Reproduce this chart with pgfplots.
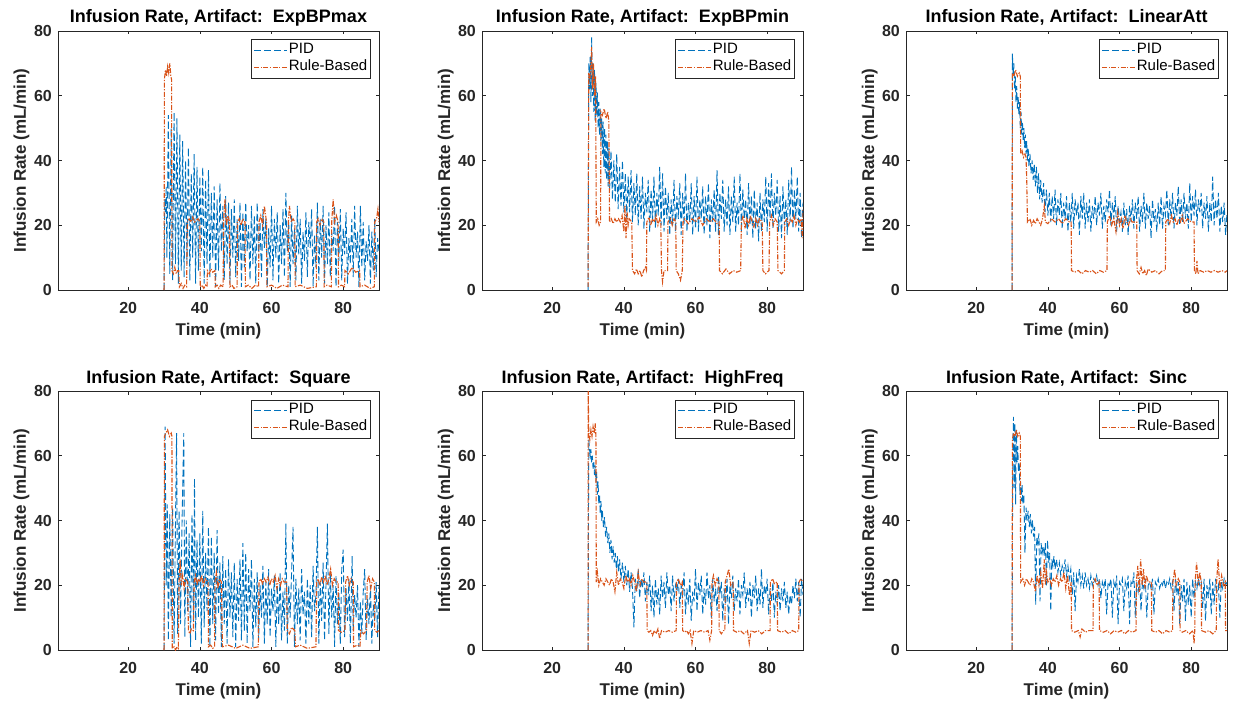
\documentclass[border=0pt]{standalone}
\usepackage{fontspec}
\setmainfont{Liberation Sans}
\usepackage{pgfplots}
\pgfplotsset{compat=1.18}

\definecolor{mblue}{rgb}{0,0.447,0.741}
\definecolor{morange}{rgb}{0.85,0.325,0.098}
\definecolor{axgray}{rgb}{0.15,0.15,0.15}

\pgfplotsset{
  panel/.style={
    scale only axis, width=321pt, height=259pt, anchor=south west,
    xmin=0.4, xmax=90, ymin=0, ymax=80,
    xtick={20,40,60,80}, ytick={0,20,40,60,80},
    tick align=inside, major tick length=3.5pt,
    axis line style={axgray, line width=0.6pt},
    tick style={axgray, line width=0.6pt},
    /pgf/number format/assume math mode=true,
    ticklabel style={font=\fontsize{16}{19}\selectfont\bfseries, text=axgray, inner sep=0pt},
    xticklabel style={anchor=base, yshift=-23pt},
    yticklabel style={anchor=east, xshift=-6pt},
    every axis x label/.style={at={(axis description cs:0.5,0)}, anchor=base, yshift=-45pt,
      font=\fontsize{17}{20}\selectfont\bfseries, text=axgray},
    every axis y label/.style={at={([xshift=-32pt]axis description cs:0,0.5)}, rotate=90, anchor=base,
      font=\fontsize{17}{20}\selectfont\bfseries, text=axgray},
    every axis title/.style={at={(axis description cs:0.5,1)}, anchor=base, yshift=8pt,
      font=\fontsize{18}{21}\selectfont\bfseries},
    xlabel={Time (min)}, ylabel={Infusion Rate (mL/min)},
    legend cell align=left,
    legend image code/.code={\draw[##1] (0pt,0pt) -- (33pt,0pt);},
    legend style={at={(1,1)}, anchor=north east, xshift=-8.5pt, yshift=-8.5pt,
      draw=axgray, line width=0.6pt, fill=white, inner xsep=2pt, inner ysep=2pt,
      font=\fontsize{15}{18}\selectfont,
      nodes={inner sep=1pt, text height=11pt, text depth=4pt}, column sep=0pt},
  },
  pid/.style={draw=mblue, line width=0.9pt, dash pattern=on 7pt off 3pt},
  rule/.style={draw=morange, line width=1.1pt, dash pattern=on 5pt off 1.5pt on 1.2pt off 1.5pt},
}

\begin{document}
\begin{tikzpicture}
\useasboundingbox (0,0) rectangle (1233pt,705pt);

% ---------------- ExpBPmax ----------------
\begin{axis}[panel, at={(58pt,415pt)}, title={Infusion Rate, Artifact:~~ExpBPmax}]
\addplot[pid] coordinates {(30.0,0)(30.2,28)(30.4,24)(30.6,32)(30.8,10)(31.2,54)(31.6,5)(32.0,50)(32.4,3)(32.8,55)(33.2,8)(33.6,53)(34.0,2)(34.4,48)(34.8,6)(35.2,46)(35.6,4)(36.0,40)(36.4,8)(36.8,44)(37.2,3)(37.6,36)(38.0,10)(38.4,42)(38.8,2)(39.2,38)(39.6,6)(40.0,35)(40.4,12)(40.8,38)(41.2,2)(41.6,34)(42.0,8)(42.4,37)(42.8,4)(43.2,30)(43.6,10)(44.0,32)(44.4,1)(44.8,28)(45.2,6)(45.6,33)(46.0,12)(46.4,26)(46.8,3)(47.2,29)(47.6,8)(48.0,27)(48.4,2)(48.8,25)(49.2,10)(49.6,28)(50.0,4)(50.4,22)(50.8,9)(51.2,27)(51.6,1)(52.0,24)(52.4,7)(52.8,27)(53.2,12)(53.6,20)(54.0,3)(54.4,26)(54.8,8)(55.2,23)(55.6,2)(56.0,27)(56.4,10)(56.8,21)(57.2,4)(57.6,25)(58.0,13)(58.4,22)(58.8,1)(59.2,19)(59.6,7)(60.0,26)(60.4,3)(60.8,22)(61.2,10)(61.6,24)(62.0,2)(62.4,20)(62.8,8)(63.2,25)(63.6,4)(64.0,30)(64.4,12)(64.8,21)(65.2,1)(65.6,23)(66.0,8)(66.4,19)(66.8,3)(67.2,26)(67.6,11)(68.0,22)(68.4,2)(68.8,18)(69.2,9)(69.6,24)(70.0,4)(70.4,21)(70.8,13)(71.2,25)(71.6,1)(72.0,17)(72.4,7)(72.8,27)(73.2,3)(73.6,22)(74.0,10)(74.4,26)(74.8,2)(75.2,20)(75.6,8)(76.0,24)(76.4,4)(76.8,18)(77.2,12)(77.6,26)(78.0,1)(78.4,21)(78.8,9)(79.2,25)(79.6,3)(80.0,19)(80.4,11)(80.8,24)(81.2,2)(81.6,16)(82.0,8)(82.4,22)(82.8,4)(83.2,26)(83.6,10)(84.0,18)(84.4,1)(84.8,26)(85.2,7)(85.6,21)(86.0,3)(86.4,15)(86.8,9)(87.2,20)(87.6,2)(88.0,18)(88.4,6)(88.8,22)(89.2,4)(89.6,16)(90.0,12)};
\addplot[rule] coordinates {(30,0)(30.1,65)(30.4,68)(30.7,66)(31.0,69)(31.3,67)(31.6,70)(31.9,66)(32.1,65)(32.2,6)(32.6,5)(33.0,7)(33.4,5)(33.8,6)(34.1,6)(34.3,1)(34.8,2)(35.3,0.5)(35.8,1.5)(36.3,1)(36.5,21)(37,22)(37.5,21)(38,22.5)(38.5,21)(39,21.5)(39.5,22)(40,21)(40.1,1)(40.6,1.5)(41.1,0.5)(41.6,1.5)(42,1)(42.1,6)(42.6,5)(43.1,6.5)(43.6,5.5)(44.2,6)(44.3,1)(44.8,1.5)(45.3,0.5)(45.8,1.5)(46.5,1)(46.6,21)(47,28)(47.4,20)(47.8,23)(48.3,21)(48.4,1)(49,1.5)(49.5,0.5)(50.4,1)(50.5,21)(51,22)(51.5,20)(52,22)(52.6,21)(52.7,1)(53.5,1.5)(54.5,0.5)(55.5,1.5)(56.4,1)(56.5,21)(57,23)(57.5,20)(58,26)(58.6,21)(58.7,1)(60,1.5)(61.5,0.5)(63,1.5)(64.6,1)(64.7,21)(65,26)(65.5,21)(66,22)(66.5,21)(66.6,1)(68,1.5)(70,0.5)(72.5,1)(72.6,21)(73,22)(73.5,20)(74,22)(74.6,21)(74.7,1)(75.5,1.5)(76.7,1)(76.8,21)(77.2,28)(77.6,21)(78.1,23)(78.6,21)(78.7,1)(79.5,1.5)(80.4,1)(80.5,6)(81.5,5)(82.5,7)(83.5,5.5)(84.6,6)(84.7,1)(86,1.5)(87.5,0.5)(88.7,1)(88.8,21)(89.3,22)(89.7,25)(90,21)};
\legend{PID,Rule-Based}
\end{axis}

% ---------------- ExpBPmin ----------------
\begin{axis}[panel, at={(482pt,415pt)}, title={Infusion Rate, Artifact:~~ExpBPmin}]
\addplot[pid] coordinates {(30.0,0)(30.2,70)(30.4,62)(30.6,72)(30.8,58)(31.0,78)(31.2,60)(31.4,70)(31.6,55)(31.8,68)(32.0,52)(32.2,64)(32.4,54)(32.6,61)(32.8,50)(33.0,58)(33.2,48)(33.4,56)(33.6,46)(33.8,53)(34.0,42)(34.2,52)(34.4,38)(34.6,50)(34.8,36)(35.0,48)(35.2,34)(35.4,46)(35.6,32)(35.8,44)(36.0,30)(36.4,43)(36.8,28)(37.2,40)(37.6,27)(38.0,42)(38.4,25)(38.8,38)(39.2,26)(39.6,40)(40.0,24)(40.4,36)(40.8,22)(41.2,35)(41.6,24)(42.0,37)(42.4,21)(42.8,33)(43.2,23)(43.6,36)(44.0,20)(44.4,32)(44.8,22)(45.2,35)(45.6,19)(46.0,30)(46.4,24)(46.8,34)(47.2,18)(47.6,31)(48.0,21)(48.4,35)(48.8,19)(49.2,30)(49.6,23)(50.0,38)(50.4,20)(50.8,36)(51.2,18)(51.6,32)(52.0,22)(52.4,30)(52.8,17)(53.2,28)(53.6,20)(54.0,34)(54.4,18)(54.8,29)(55.2,22)(55.6,33)(56.0,17)(56.4,30)(56.8,20)(57.2,36)(57.6,18)(58.0,27)(58.4,21)(58.8,33)(59.2,17)(59.6,29)(60.0,19)(60.4,35)(60.8,18)(61.2,28)(61.6,22)(62.0,32)(62.4,17)(62.8,29)(63.2,20)(63.6,33)(64.0,16)(64.4,28)(64.8,21)(65.2,31)(65.6,18)(66.0,37)(66.4,17)(66.8,30)(67.2,22)(67.6,34)(68.0,18)(68.4,28)(68.8,20)(69.2,32)(69.6,17)(70.0,29)(70.4,21)(70.8,35)(71.2,18)(71.6,27)(72.0,20)(72.4,36)(72.8,18)(73.2,31)(73.6,22)(74.0,28)(74.4,17)(74.8,33)(75.2,20)(75.6,29)(76.0,16)(76.4,31)(76.8,19)(77.2,27)(77.6,15)(78.0,30)(78.4,18)(78.8,28)(79.2,21)(79.6,35)(80.0,18)(80.4,33)(80.8,22)(81.2,36)(81.6,19)(82.0,30)(82.4,23)(82.8,34)(83.2,18)(83.6,29)(84.0,16)(84.4,32)(84.8,20)(85.2,28)(85.6,17)(86.0,34)(86.4,21)(86.8,38)(87.2,19)(87.6,31)(88.0,22)(88.4,35)(88.8,18)(89.2,30)(89.6,16)(90.0,27)};
\addplot[rule] coordinates {(30,1)(30.2,67)(30.5,65)(30.8,70)(31.0,75)(31.2,62)(31.5,70)(31.8,60)(32.1,66)(32.3,21)(32.7,22)(33.1,20)(33.5,21)(33.6,55)(34,54)(34.5,56)(35,53)(35.5,55)(35.8,52)(36,21)(36.5,22)(37,20.5)(37.5,22)(38,21)(38.5,22)(39,21)(39.5,23)(40,18)(40.3,26)(40.6,16)(40.9,24)(41.2,20)(41.5,22)(42.2,21)(42.4,6)(43,5)(43.5,6.5)(44,5)(44.5,6)(45,4)(45.5,6)(46,7)(46.3,6)(46.4,21)(47,22.5)(47.5,20)(48,22)(48.5,21)(49,23)(49.5,20)(50,22)(50.3,21)(50.5,6)(50.8,2.5)(51.2,6)(51.8,6)(52.2,6)(52.3,21)(53,22)(53.5,20)(54,22)(54.5,21)(54.6,6)(55.2,5)(55.8,3)(56.3,6)(56.5,21)(57,22)(58,20.5)(59,22)(60,21)(61,22.5)(62,20)(63,22)(64,21)(65,22)(66,20.5)(66.6,21)(66.7,6)(67.5,5)(68.5,6.5)(69.5,5)(70.5,6)(71.5,5.5)(72.6,6)(72.8,21)(73.3,23)(73.8,19)(74.3,22)(74.8,20)(75.3,23)(75.8,21)(76.3,19.5)(76.8,22)(77.3,20)(77.8,22)(78.6,21)(78.8,6)(79.5,5)(80.5,6)(80.7,21)(81.2,23)(81.7,20)(82.2,22)(82.8,21)(83,6)(84,5)(84.8,6)(84.9,21)(85.5,22)(86,20)(86.5,22)(87,21)(87.5,23)(88,20)(88.5,22)(89,21)(89.5,22)(89.8,16)(90,25)};
\legend{PID,Rule-Based}
\end{axis}

% ---------------- LinearAtt ----------------
\begin{axis}[panel, at={(906pt,415pt)}, title={Infusion Rate, Artifact:~~LinearAtt}]
\addplot[pid] coordinates {(30.0,0)(30.1,73)(30.3,66)(30.5,70)(30.7,62)(30.9,66)(31.1,58)(31.3,63)(31.5,56)(31.7,60)(31.9,54)(32.1,58)(32.3,50)(32.5,55)(32.7,48)(32.9,52)(33.1,46)(33.3,50)(33.5,44)(33.7,48)(33.9,42)(34.1,46)(34.3,40)(34.5,44)(34.7,38)(35.0,42)(35.3,36)(35.6,40)(35.9,34)(36.2,39)(36.5,32)(36.8,38)(37.1,30)(37.4,36)(37.7,28)(38.0,34)(38.4,27)(38.8,33)(39.2,24)(39.6,31)(40.0,23)(40.4,30)(40.8,21)(41.2,29)(41.6,22)(42.0,31)(42.4,20)(42.8,28)(43.2,23)(43.6,30)(44.0,19)(44.4,27)(44.8,22)(45.2,29)(45.6,18)(46.0,27)(46.4,21)(46.8,30)(47.2,19)(47.6,28)(48.0,23)(48.4,27)(48.8,17)(49.2,29)(49.6,22)(50.0,30)(50.4,19)(50.8,27)(51.2,21)(51.6,28)(52.0,18)(52.4,26)(52.8,22)(53.2,29)(53.6,20)(54.0,27)(54.4,23)(54.8,30)(55.2,19)(55.6,26)(56.0,21)(56.4,28)(56.8,24)(57.2,31)(57.6,20)(58.0,27)(58.4,22)(58.8,29)(59.2,18)(59.6,26)(60.0,21)(60.4,24)(60.8,18)(61.2,27)(61.6,20)(62.0,25)(62.4,17)(62.8,26)(63.2,21)(63.6,28)(64.0,19)(64.4,27)(64.8,22)(65.2,29)(65.6,18)(66.0,26)(66.4,21)(66.8,30)(67.2,19)(67.6,27)(68.0,22)(68.4,26)(68.8,16)(69.2,28)(69.6,21)(70.0,25)(70.4,18)(70.8,27)(71.2,20)(71.6,29)(72.0,19)(72.4,26)(72.8,23)(73.2,31)(73.6,20)(74.0,28)(74.4,22)(74.8,30)(75.2,19)(75.6,27)(76.0,23)(76.4,32)(76.8,20)(77.2,28)(77.6,21)(78.0,30)(78.4,22)(78.8,27)(79.2,19)(79.6,33)(80.0,21)(80.4,29)(80.8,23)(81.2,31)(81.6,20)(82.0,28)(82.4,24)(82.8,30)(83.2,19)(83.6,27)(84.0,22)(84.4,29)(84.8,18)(85.2,27)(85.6,21)(86.0,35)(86.4,20)(86.8,28)(87.2,22)(87.6,30)(88.0,18)(88.4,26)(88.8,21)(89.2,27)(89.6,17)(90.0,24)};
\addplot[rule] coordinates {(30,0)(30.1,67)(30.5,66)(31,68)(31.5,66)(32,67)(32.3,66)(32.4,42)(32.8,43)(33.2,41)(33.6,42)(33.9,41)(34.1,34)(34.3,21)(35,22)(35.5,20)(36,21.5)(36.5,20.5)(37,22)(37.5,21)(38,20)(38.5,22)(39,26)(39.3,21)(40,20.5)(41,22)(42,21)(43,22)(44,20.5)(45,22)(46,21)(46.5,21)(46.6,6)(47.5,5.5)(48.5,6)(49.5,5)(50.5,6)(51.5,5.5)(52.5,6)(53.5,5)(54.5,6)(55.5,5.5)(56.5,6)(56.6,21)(57.2,23)(57.8,20)(58.4,22)(59,18)(59.5,24)(60,20)(60.5,22)(61,19)(61.5,23)(62,21)(62.5,20)(63,22)(63.5,21)(64.8,21)(64.9,6)(65.5,5)(66,7)(66.5,5)(67,6)(67.5,4.5)(68,6.5)(69,5.5)(70,6)(71,5)(72,6)(72.8,6)(72.9,21)(73.5,22)(74,20.5)(74.5,23)(75,21)(75.5,22)(76,20)(76.5,22)(77,21)(77.5,23)(78,20.5)(79,22)(80,21)(80.8,21)(80.9,6)(81.3,5)(81.6,9)(81.9,5)(82.5,6)(83.5,5.5)(84.5,6)(85.5,5.5)(86.5,6)(87.5,5.5)(88.5,6)(89.5,5.5)(90,6)};
\legend{PID,Rule-Based}
\end{axis}

% ---------------- Square ----------------
\begin{axis}[panel, at={(58pt,55pt)}, title={Infusion Rate, Artifact:~~Square}]
\addplot[pid] coordinates {(30.0,0)(30.3,69)(30.6,20)(30.9,45)(31.2,3)(31.6,42)(32.0,10)(32.4,44)(32.8,2)(33.2,40)(33.5,67)(33.8,5)(34.2,43)(34.6,8)(35.0,38)(35.5,67)(35.8,4)(36.2,40)(36.6,12)(37.0,36)(37.4,1)(37.8,42)(38.2,9)(38.5,53)(38.8,3)(39.2,34)(39.6,10)(40.0,36)(40.4,2)(40.8,43)(41.2,7)(41.6,30)(42.0,12)(42.4,38)(42.8,1)(43.2,35)(43.6,8)(44.0,30)(44.4,3)(44.8,37)(45.2,11)(45.6,27)(46.0,1)(46.4,29)(46.8,8)(47.2,25)(47.6,2)(48.0,28)(48.4,10)(48.8,24)(49.2,4)(49.6,27)(50.0,1)(50.4,22)(50.8,9)(51.2,28)(51.6,3)(52.0,33)(52.4,6)(52.8,30)(53.2,2)(53.6,25)(54.0,12)(54.4,28)(54.8,1)(55.2,22)(55.6,7)(56.0,24)(56.4,3)(56.8,20)(57.2,10)(57.6,26)(58.0,2)(58.4,21)(58.8,8)(59.2,25)(59.6,4)(60.0,19)(60.4,12)(60.8,23)(61.2,1)(61.6,20)(62.0,8)(62.4,24)(62.8,3)(63.2,18)(63.6,6)(64.0,39)(64.4,2)(64.8,20)(65.2,10)(65.6,24)(66.0,38)(66.4,1)(66.8,22)(67.2,8)(67.6,19)(68.0,3)(68.4,25)(68.8,11)(69.2,18)(69.6,2)(70.0,22)(70.4,8)(70.8,20)(71.2,4)(71.6,26)(72.0,12)(72.4,17)(72.8,38)(73.2,2)(73.6,21)(74.0,9)(74.4,27)(74.8,3)(75.2,20)(75.6,39)(76.0,5)(76.4,24)(76.8,10)(77.2,20)(77.6,1)(78.0,23)(78.4,8)(78.8,18)(79.2,2)(79.6,25)(80.0,31)(80.4,4)(80.8,19)(81.2,9)(81.6,22)(82.0,2)(82.5,29)(82.8,6)(83.2,17)(83.6,10)(84.0,20)(84.4,1)(84.8,15)(85.2,5)(85.6,18)(86.0,25)(86.4,3)(86.8,16)(87.2,8)(87.6,20)(88.0,2)(88.4,14)(88.8,9)(89.2,21)(89.6,4)(90.0,20)};
\addplot[rule] coordinates {(30,0)(30.1,66)(30.5,67)(31,68)(31.5,66)(32,67)(32.2,66)(32.3,0.5)(32.8,1)(33.2,0)(33.6,1)(34,0.5)(34.2,21)(34.5,28)(34.8,20)(35.2,23)(35.6,19)(36,22)(36.6,21)(36.8,6)(37.2,5)(37.6,6.5)(38.2,6)(38.4,21)(38.8,23)(39.2,20)(39.6,22)(40,21)(40.5,23)(41,20)(41.5,22)(42.3,21)(42.4,1)(43,1.5)(43.6,0.5)(44.1,1)(44.2,21)(44.6,24)(45,19)(45.5,22)(46,21)(46.3,1)(48,1.5)(50,0.5)(52,1.5)(54,0.5)(56.3,1)(56.5,21)(57,22)(57.5,20.5)(58,22)(58.5,21)(59,22.5)(59.5,20)(60,22)(60.5,21)(61,23)(61.5,19)(62,22)(62.5,20)(63,22)(63.5,21)(64.2,21)(64.4,6)(65,5)(65.6,7)(66.5,6)(66.7,1)(68,1.5)(70,0.5)(72.4,1)(72.6,21)(73,22)(73.5,20)(74,22.5)(74.5,21)(75,23)(75.5,20)(76,22)(76.5,25)(77,20)(77.5,22)(78,21)(78.6,21)(78.7,6)(79.5,5.5)(80.5,6)(80.7,21)(81.2,23)(81.7,20)(82.2,22)(82.8,21)(82.9,1)(84,1.5)(84.7,1)(84.9,6)(85.7,5)(86.5,6)(86.7,21)(87.2,23)(87.7,19)(88.2,22)(88.7,21)(88.8,6)(89.4,5.5)(90,6)};
\legend{PID,Rule-Based}
\end{axis}

% ---------------- HighFreq ----------------
\begin{axis}[panel, at={(482pt,55pt)}, title={Infusion Rate, Artifact:~~HighFreq}]
\addplot[pid] coordinates {(30.0,0)(30.2,65)(30.4,62)(30.6,60)(30.8,62)(31.0,58)(31.2,60)(31.4,56)(31.6,58)(31.8,54)(32.0,57)(32.2,52)(32.4,55)(32.6,48)(32.8,52)(33.0,45)(33.2,48)(33.4,42)(33.6,46)(33.8,40)(34.0,43)(34.3,38)(34.6,41)(34.9,35)(35.2,38)(35.5,33)(35.8,36)(36.1,30)(36.4,34)(36.7,28)(37.0,32)(37.3,27)(37.6,30)(37.9,25)(38.2,29)(38.5,24)(38.8,28)(39.2,22)(39.6,27)(40.0,21)(40.4,26)(40.8,20)(41.2,25)(41.6,18)(42.0,24)(42.4,19)(42.8,7)(43.2,22)(43.6,18)(44.0,25)(44.4,16)(44.8,22)(45.2,19)(45.6,24)(46.0,15)(46.4,21)(46.8,17)(47.2,23)(47.6,12)(48.0,20)(48.4,10)(48.8,22)(49.2,14)(49.6,19)(50.0,11)(50.4,23)(50.8,16)(51.2,21)(51.6,13)(52.0,24)(52.4,17)(52.8,20)(53.2,12)(53.6,23)(54.0,15)(54.4,20)(54.8,18)(55.2,22)(55.6,13)(56.0,20)(56.4,16)(56.8,24)(57.2,11)(57.6,19)(58.0,14)(58.4,22)(58.8,9)(59.2,18)(59.6,15)(60.0,25)(60.4,12)(60.8,21)(61.2,17)(61.6,23)(62.0,11)(62.4,19)(62.8,14)(63.2,24)(63.6,16)(64.0,20)(64.4,10)(64.8,22)(65.2,15)(65.6,19)(66.0,12)(66.4,23)(66.8,17)(67.2,21)(67.6,9)(68.0,19)(68.4,14)(68.8,22)(69.2,8)(69.6,20)(70.0,16)(70.4,23)(70.8,12)(71.2,19)(71.6,15)(72.0,22)(72.4,11)(72.8,20)(73.2,17)(73.6,24)(74.0,13)(74.4,19)(74.8,15)(75.2,21)(75.6,10)(76.0,20)(76.4,16)(76.8,23)(77.2,12)(77.6,19)(78.0,14)(78.4,25)(78.8,13)(79.2,20)(79.6,17)(80.0,22)(80.4,11)(80.8,19)(81.2,15)(81.6,21)(82.0,10)(82.4,18)(82.8,14)(83.2,20)(83.6,12)(84.0,19)(84.4,15)(84.8,21)(85.2,13)(85.6,18)(86.0,11)(86.4,17)(86.8,14)(87.2,20)(87.6,16)(88.0,22)(88.4,15)(88.8,21)(89.2,10)(89.6,22)(90.0,17)};
\addplot[rule] coordinates {(30,0)(30.05,80)(30.2,67)(30.5,65)(30.8,68)(31.1,66)(31.4,69)(31.7,67)(32,70)(32.2,66)(32.3,21)(32.6,24)(33,20)(33.5,22)(34,21)(34.5,20)(35,22)(35.5,21)(36,20)(36.5,22)(37,21)(37.5,18)(38,24)(38.5,20)(39,22)(39.5,21)(40,19)(40.5,23)(41,21)(41.5,22)(42,20)(42.5,23)(43,21)(43.5,18)(44,24)(44.5,20)(45,22)(45.5,21)(46.4,21)(46.5,6)(47,5.5)(47.5,6)(48,4.5)(48.5,6)(49,5)(49.5,6.5)(50,3.5)(50.5,6)(51.5,5.5)(52.5,6)(53.5,5.5)(54.6,6)(54.7,21)(55.2,22)(55.8,20)(56.3,21)(56.4,6)(57,5.5)(57.5,6)(58,5)(58.5,6)(59,2)(59.5,6)(60.5,5.5)(61.5,6)(62.5,5.5)(63.5,6)(64,3)(64.5,6)(64.6,21)(65,23)(65.5,20)(66,22)(66.5,21)(66.6,6)(67.2,5)(67.8,6)(68.2,6)(68.3,21)(68.8,23)(69.3,25)(69.8,20)(70.5,21)(70.6,6)(71.5,5.5)(72.5,6)(73.5,5)(74.5,6)(75,2)(75.5,6)(76.5,5.5)(77.5,6)(78.5,5)(79.5,6)(80.8,6)(80.9,21)(81.5,22)(82,20.5)(82.8,21)(82.9,6)(84,5.5)(85,6)(86,5)(87,6)(88,5.5)(88.8,6)(88.9,21)(89.4,22)(90,21)};
\legend{PID,Rule-Based}
\end{axis}

% ---------------- Sinc ----------------
\begin{axis}[panel, at={(906pt,55pt)}, title={Infusion Rate, Artifact:~~Sinc}]
\addplot[pid] coordinates {(30.0,0)(30.2,60)(30.4,72)(30.6,50)(30.8,70)(31.0,45)(31.2,68)(31.4,58)(31.6,63)(31.8,55)(32.0,58)(32.2,48)(32.4,52)(32.6,46)(32.8,51)(33.0,45)(33.3,48)(33.6,30)(33.9,44)(34.2,40)(34.5,43)(34.8,38)(35.1,42)(35.4,36)(35.7,40)(36.0,35)(36.3,38)(36.6,14)(36.9,35)(37.2,33)(37.5,36)(37.8,15)(38.1,33)(38.4,30)(38.7,32)(39.0,29)(39.3,33)(39.6,20)(39.9,34)(40.2,27)(40.5,30)(40.8,12)(41.1,28)(41.4,26)(41.7,29)(42.0,25)(42.4,28)(42.8,24)(43.2,27)(43.6,23)(44.0,26)(44.4,24)(44.8,28)(45.2,23)(45.6,26)(46.0,22)(46.4,25)(46.8,17)(47.2,24)(47.6,12)(48.0,23)(48.4,21)(48.8,25)(49.2,20)(49.6,23)(50.0,19)(50.4,24)(50.8,20)(51.2,22)(51.6,19)(52.0,23)(52.4,20)(52.8,22)(53.2,21)(53.6,23)(54.0,20)(54.4,22)(54.8,16)(55.2,21)(55.6,19)(56.0,22)(56.4,11)(56.8,21)(57.2,20)(57.6,22)(58.0,10)(58.4,21)(58.8,19)(59.2,23)(59.6,8)(60.0,21)(60.4,20)(60.8,22)(61.2,12)(61.6,21)(62.0,19)(62.4,23)(62.8,8)(63.2,21)(63.6,20)(64.0,24)(64.4,10)(64.8,21)(65.2,18)(65.6,22)(66.0,12)(66.4,21)(66.8,19)(67.2,22)(67.6,10)(68.0,20)(68.4,21)(68.8,19)(69.2,22)(69.6,11)(70.0,21)(70.4,20)(70.8,22)(71.2,19)(71.6,21)(72.0,20)(72.4,22)(72.8,19)(73.2,21)(73.6,20)(74.0,22)(74.4,19)(74.8,21)(75.2,12)(75.6,22)(76.0,17)(76.4,21)(76.8,8)(77.2,20)(77.6,15)(78.0,22)(78.4,9)(78.8,21)(79.2,14)(79.6,20)(80.0,10)(80.4,22)(80.8,16)(81.2,21)(81.6,19)(82.0,22)(82.4,20)(82.8,21)(83.2,13)(83.6,22)(84.0,9)(84.4,20)(84.8,16)(85.2,22)(85.6,11)(86.0,21)(86.4,14)(86.8,22)(87.2,18)(87.6,20)(88.0,10)(88.4,21)(88.8,19)(89.2,22)(89.6,20)(90.0,21)};
\addplot[rule] coordinates {(30,0)(30.1,65)(30.4,67)(30.8,66)(31.2,68)(31.6,66)(32,67)(32.3,66)(32.4,21)(33,22)(33.5,20)(34,22)(34.5,21)(35,20)(35.5,22)(36,21)(36.5,18)(37,23)(37.5,20)(38,24)(38.5,19)(39,28)(39.3,20)(39.6,24)(40,21)(40.5,22)(41,20)(41.5,22)(42,21)(42.5,23)(43,20)(43.5,22)(44,21)(44.5,24)(45,19)(45.5,23)(46,17)(46.5,21)(46.6,6)(47.5,5.5)(48.5,6)(49,4)(49.5,6.5)(50.5,5.5)(51.5,6)(52.6,6)(52.7,21)(53.2,22)(53.7,20)(54.3,21)(54.4,6)(55.5,5.5)(56.5,6)(57.5,5)(58.5,6)(59.5,5.5)(60.5,6)(61.5,5)(62.5,6)(63.5,5.5)(64.6,6)(64.7,21)(65.1,26)(65.5,18)(65.9,28)(66.3,20)(66.7,25)(67.1,19)(67.5,23)(68,21)(68.9,21)(69,6)(70,5.5)(71,6)(72,5)(73,6)(74,5.5)(74.8,6)(74.9,21)(75.4,25)(75.8,20)(76.4,22)(76.8,21)(76.9,6)(77.5,5.5)(78.5,6)(79.5,5)(80.5,6)(80.8,2)(81,6)(81.1,21)(81.5,27)(82,20)(82.4,24)(82.8,21)(82.9,6)(84,5.5)(85,6)(86,5)(87,6)(87.1,21)(87.5,28)(88,19)(88.5,23)(89,20)(89.5,21)(89.6,6)(90,6)};
\legend{PID,Rule-Based}
\end{axis}
\end{tikzpicture}
\end{document}
